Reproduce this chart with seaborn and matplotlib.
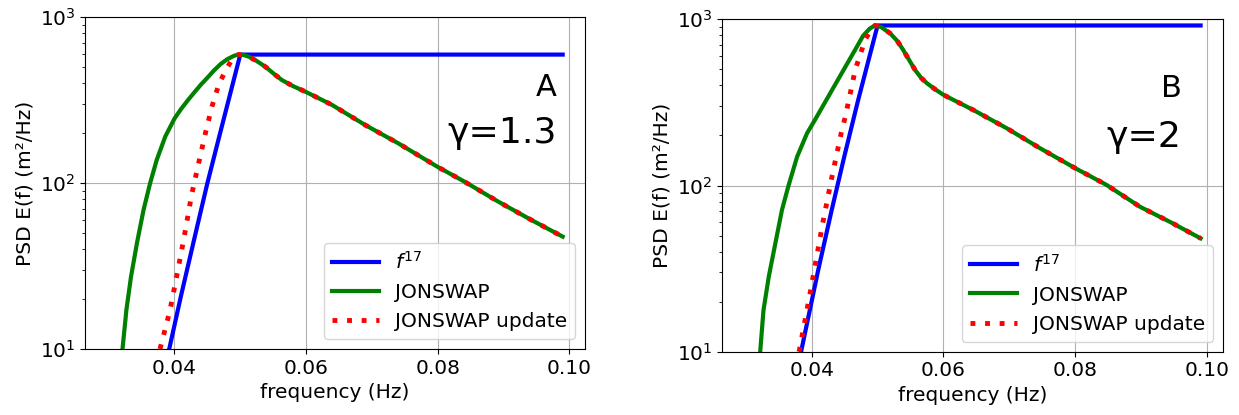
import numpy as np
import pandas as pd
import matplotlib.pyplot as plt
import seaborn as sns

# ---- panel A (gamma = 1.3) ----
freq_pow_a = [0.0392, 0.0410, 0.0430, 0.0450, 0.0470, 0.0500, 0.0990]
psd_pow_a = [10, 21, 46, 100, 205, 596, 596]

freq_rise_a = [0.0321, 0.0327, 0.0334, 0.0343, 0.0353, 0.0363, 0.0373, 0.0386,
               0.0400, 0.0410, 0.0420, 0.0430, 0.0440, 0.0450, 0.0460, 0.0470,
               0.0480, 0.0490, 0.0497]
psd_rise_a = [10, 17.3, 27.4, 43.6, 69, 100, 138, 191,
              245, 280, 315, 352, 392, 432, 478, 522,
              558, 585, 596]

freq_upd_rise_a = [0.0378, 0.0393, 0.0403, 0.0415, 0.0426, 0.0436, 0.0447, 0.0457,
                   0.0467, 0.0478, 0.0488, 0.0497]
psd_upd_rise_a = [10, 17, 27, 48, 85, 128, 200, 290, 390, 482, 560, 596]

freq_tail_a = [0.0505, 0.0513, 0.0525, 0.0538, 0.0550, 0.0563, 0.0580, 0.0599,
               0.0639, 0.0690, 0.0740, 0.0799, 0.0841, 0.0892, 0.0942, 0.0990]
psd_tail_a = [592, 579, 545, 504, 460, 419, 385, 356,
              297, 224, 174, 126, 102, 77.4, 60.1, 47.6]

# ---- panel B (gamma = 2) ----
freq_pow_b = [0.0384, 0.0410, 0.0430, 0.0450, 0.0470, 0.0500, 0.0990]
psd_pow_b = [10, 31, 70, 152, 320, 918, 918]

freq_rise_b = [0.0322, 0.0327, 0.0335, 0.0345, 0.0355, 0.0365, 0.0378, 0.0393,
               0.0405, 0.0420, 0.0435, 0.0450, 0.0465, 0.0478, 0.0488, 0.0496]
psd_rise_b = [10, 17.8, 28.3, 44.9, 71.3, 100, 149, 206,
              248, 315, 400, 508, 645, 795, 878, 918]

freq_upd_rise_b = [0.0381, 0.0399, 0.0416, 0.0430, 0.0445, 0.0451, 0.0460, 0.0466,
                   0.0481, 0.0491, 0.0496]
psd_upd_rise_b = [10, 24, 57, 109, 208, 259, 380, 495, 750, 883, 918]

freq_tail_b = [0.0505, 0.0519, 0.0530, 0.0539, 0.0548, 0.0557, 0.0566, 0.0575,
               0.0587, 0.0600, 0.0645, 0.0696, 0.0746, 0.0800, 0.0847, 0.0898,
               0.0945, 0.0990]
psd_tail_b = [900, 824, 740, 653, 568, 495, 445, 412,
              380, 351, 285, 221, 168, 127, 101, 74.5,
              60, 48.1]

panels = [
    dict(pow=(freq_pow_a, psd_pow_a), rise=(freq_rise_a, psd_rise_a),
         upd=(freq_upd_rise_a, psd_upd_rise_a), tail=(freq_tail_a, psd_tail_a),
         letter="A", gamma="γ=1.3", pos=[0.0686, 0.159, 0.4036, 0.7993],
         tx=0.944, ty=(0.763, 0.620)),
    dict(pow=(freq_pow_b, psd_pow_b), rise=(freq_rise_b, psd_rise_b),
         upd=(freq_upd_rise_b, psd_upd_rise_b), tail=(freq_tail_b, psd_tail_b),
         letter="B", gamma="γ=2", pos=[0.5827, 0.1525, 0.4044, 0.801],
         tx=0.917, ty=(0.765, 0.615)),
]

fig = plt.figure(figsize=(12.39, 4.15), dpi=100)

for p in panels:
    ax = fig.add_axes(p["pos"])
    jon_f = p["rise"][0] + p["tail"][0]
    jon_e = p["rise"][1] + p["tail"][1]
    upd_f = p["upd"][0] + p["tail"][0]
    upd_e = p["upd"][1] + p["tail"][1]

    sns.lineplot(x=p["pow"][0], y=p["pow"][1], ax=ax, color="blue", lw=3,
                 label="$f^{17}$", estimator=None)
    sns.lineplot(x=jon_f, y=jon_e, ax=ax, color="green", lw=3,
                 label="JONSWAP", estimator=None)
    sns.lineplot(x=upd_f, y=upd_e, ax=ax, color="red", lw=3.5,
                 linestyle=(0, (1, 2)), label="JONSWAP update", estimator=None)

    ax.set_yscale("log")
    ax.set_ylim(10, 1000)
    ax.set_xlim(0.0264, 0.1024)
    ax.set_xticks([0.04, 0.06, 0.08, 0.10])
    ax.grid(True, which="major", color="#b0b0b0", lw=0.8)
    ax.tick_params(labelsize=14.5)
    ax.set_xlabel("frequency (Hz)", fontsize=14.5)
    ax.set_ylabel("PSD E(f) (m²/Hz)", fontsize=14.5)
    ax.legend(loc="lower right", fontsize=14.5, handlelength=2.3)

    ax.text(p["tx"], p["ty"][0], p["letter"], transform=ax.transAxes,
            ha="right", va="baseline", fontsize=22)
    ax.text(p["tx"], p["ty"][1], p["gamma"], transform=ax.transAxes,
            ha="right", va="baseline", fontsize=26)

fig.savefig("out.png", dpi=100)
